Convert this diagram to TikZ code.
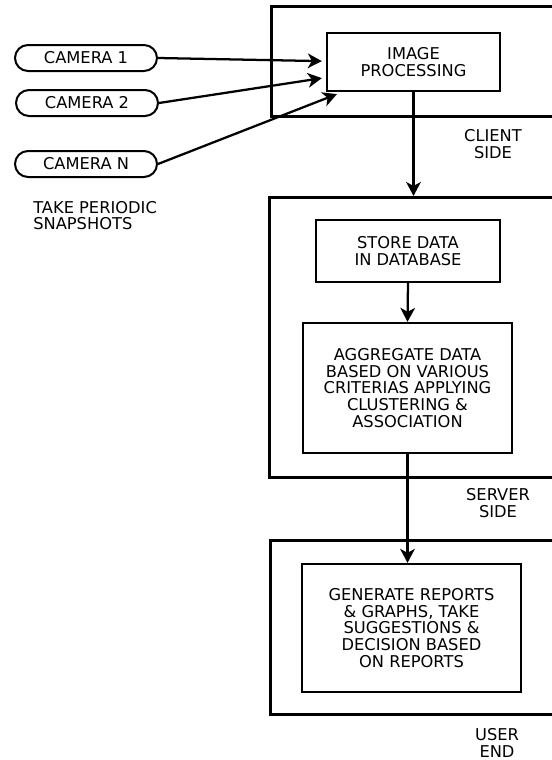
\documentclass[tikz,border=0pt]{standalone}
\usepackage{fontspec}
\setmainfont{DejaVu Sans}
\usetikzlibrary{arrows.meta,calc,shapes.misc}
\tikzset{
  txt/.style={font=\fontsize{12.2}{12.5}\selectfont},
  lbl/.style={txt, align=center, inner sep=0pt},
  procbox/.style={txt, draw, line width=1.7pt, align=center, inner sep=0pt},
  outerbox/.style={draw, line width=2pt, anchor=north west, inner sep=0pt},
  cam/.style={txt, draw, rounded rectangle, line width=1.5pt, minimum width=106.5pt,
    minimum height=19.5pt, inner sep=0pt},
  conn/.style={line width=1.7pt, -{Stealth[length=10.5pt,width=11pt,inset=3pt]}},
}
\begin{document}
\begin{tikzpicture}[x=0.75pt,y=-0.75pt]
\useasboundingbox (0,0) rectangle (552,760);
\clip (0,0) rectangle (552,760);
% outer regions
\node[outerbox, minimum width=247.5pt, minimum height=82.5pt] (client) at (270,5) {};
\node[outerbox, minimum width=249pt, minimum height=210pt] (server) at (268,196) {};
\node[outerbox, minimum width=248pt, minimum height=130.5pt] (user) at (269,539) {};
% process boxes
\node[procbox, minimum width=129.75pt, minimum height=43.5pt] (ip) at (413.5,62) {IMAGE\\PROCESSING};
\node[procbox, minimum width=138pt, minimum height=46.5pt] (store) at (408,251) {STORE DATA\\IN DATABASE};
\node[procbox, minimum width=156.75pt, minimum height=97.5pt] (agg) at (407.5,388) {AGGREGATE DATA\\BASED ON VARIOUS\\CRITERIAS APPLYING\\CLUSTERING \&\\ASSOCIATION};
\node[procbox, minimum width=164.25pt, minimum height=96pt] (gen) at (411.5,628) {GENERATE REPORTS\\\& GRAPHS, TAKE\\SUGGESTIONS \&\\DECISION BASED\\ON REPORTS};
% cameras
\node[cam] (cam1) at (86,58) {CAMERA 1};
\node[cam] (cam2) at (87,103) {CAMERA 2};
\node[cam] (camN) at (86,164) {CAMERA N};
% labels
\node[lbl] (clientlbl) at (493,144) {CLIENT\\SIDE};
\node[lbl] (serverlbl) at (498,503) {SERVER\\SIDE};
\node[lbl] (userlbl) at (497,743) {USER\\END};
\node[lbl, align=left, anchor=west] (snap) at (33,215.5) {TAKE PERIODIC\\SNAPSHOTS};
% connectors
\draw[conn] (cam1.east) -- ($(ip.south west)+(-4,-31)$);
\draw[conn] (cam2.east) -- ($(ip.south west)+(-4,-14)$);
\draw[conn] (camN.east) -- ($(ip.south west)+(11,2)$);
\draw[conn] (ip.south) -- (ip.south |- server.north);
\draw[conn] (store.south) -- (agg.north);
\draw[conn] (agg.south) -- (agg.south |- gen.north);
\end{tikzpicture}
\end{document}
